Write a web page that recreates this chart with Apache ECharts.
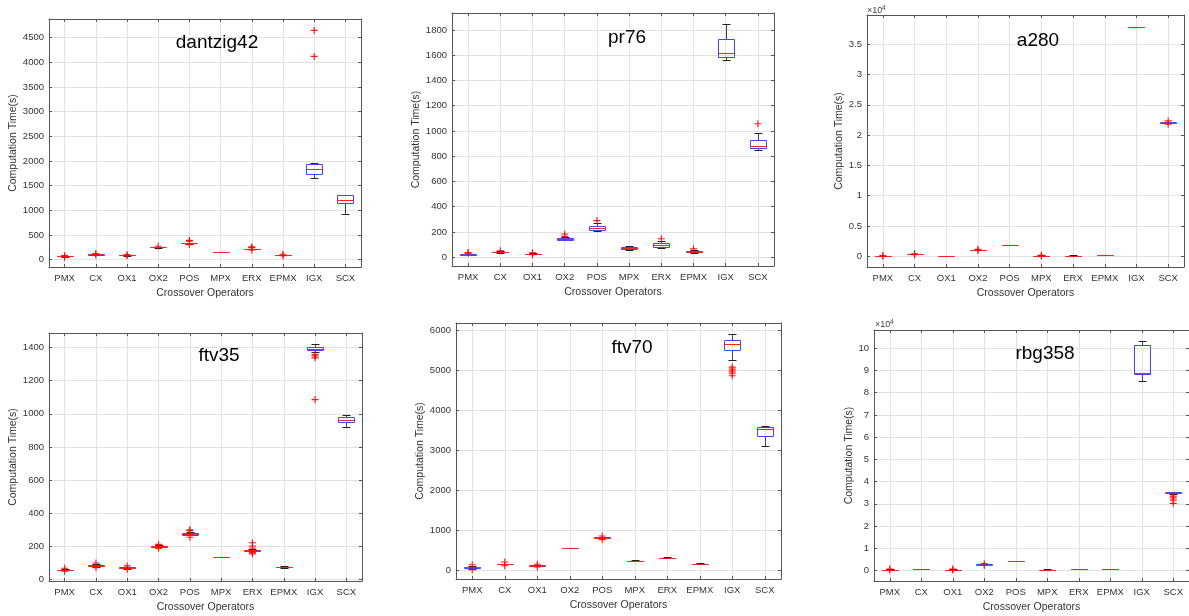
<!DOCTYPE html>
<html><head><meta charset="utf-8">
<script src="https://cdn.jsdelivr.net/npm/echarts@6/dist/echarts.min.js"></script>
<style>html,body{margin:0;padding:0;background:#fff}#c{width:1189px;height:616px}</style>
</head><body><div id="c"></div>
<script>
const categories = ['PMX','CX','OX1','OX2','POS','MPX','ERX','EPMX','IGX','SCX'];
const panelNames = ['dantzig42','pr76','a280','ftv35','ftv70','rbg358'];
const yTickSteps = [500, 200, 5000, 200, 1000, 10000];
const yLabelDivisors = [1, 1, 1e4, 1, 1, 1e4];

// box statistics per category: [lower whisker, Q1, median, Q3, upper whisker] (seconds)
const dantzig42Box = [
  [60,63,66,69,72],[100,103,106,109,112],[81,84,87,90,93],[242,246,249,252,256],
  [326,331,336,341,346],[151,153,155,157,159],[208,212,216,220,224],[87,90,93,96,99],
  [1665,1739,1847,1942,1962],[934,1157,1211,1305,1318]
];
const dantzig42Out = [[0,50],[0,82],[1,125],[1,92],[2,76],[2,100],[3,270],[4,375],[4,390],[4,305],[6,243],[6,258],[6,195],[7,80],[7,108],[8,4121],[8,4649]];

const pr76Box = [
  [14,17,20,23,27],[34,37,40,43,46],[22,24,27,29,32],[134,138,144,150,158],
  [210,216,232,248,272],[58,64,72,82,88],[76,82,93,109,130],[34,38,42,46,53],
  [1560,1586,1620,1729,1847],[848,862,883,930,985]
];
const pr76Out = [[0,32],[0,36],[1,50],[2,35],[2,20],[3,165],[3,184],[4,290],[6,146],[7,66],[9,1057]];

const a280Box = [
  [40,50,60,70,80],[300,315,330,345,360],[40,50,60,70,80],[1020,1035,1047,1060,1075],
  [1790,1805,1820,1835,1850],[80,95,110,125,140],[90,100,110,120,130],[140,155,165,175,190],
  [37850,37860,37870,37880,37890],[21950,22000,22050,22100,22150]
];
const a280Out = [[0,120],[0,10],[1,420],[1,250],[3,1150],[3,950],[5,180],[5,60],[9,21800],[9,22350]];

const ftv35Box = [
  [55,57,58,59,61],[76,81,84,89,94],[64,68,71,74,78],[194,197,200,203,206],
  [266,271,275,279,284],[133,134,135,136,137],[170,174,178,181,185],[72,74,76,78,80],
  [1372,1384,1394,1404,1424],[921,949,963,978,996]
];
const ftv35Out = [[0,68],[0,50],[1,100],[1,72],[2,82],[2,62],[3,212],[3,188],[4,295],[4,255],[4,300],[6,222],[6,202],[6,190],[6,164],[6,155],[8,1358],[8,1350],[8,1338],[8,1086]];

const ftv70Box = [
  [30,55,75,95,120],[148,154,160,166,172],[105,111,117,123,129],[550,555,560,565,570],
  [800,810,817,824,834],[236,239,242,245,248],[311,314,317,320,323],[161,164,167,170,173],
  [5250,5517,5667,5750,5900],[3117,3367,3533,3575,3600]
];
const ftv70Out = [[0,15],[0,140],[1,210],[1,115],[2,155],[2,85],[4,860],[4,770],[8,5083],[8,5033],[8,4983],[8,4933],[8,4867]];

const rbg358Box = [
  [420,435,450,465,480],[570,585,600,615,630],[420,435,450,465,480],[2640,2670,2700,2730,2760],
  [4140,4170,4200,4230,4260],[420,435,450,465,480],[570,585,600,615,630],[720,735,750,765,780],
  [85300,88560,88700,101600,103300],[34400,34700,34950,35300,35500]
];
const rbg358Out = [[0,200],[0,700],[2,250],[2,650],[3,2300],[3,3100],[9,33500],[9,32700],[9,31700],[9,30200]];

const boxSets = [dantzig42Box, pr76Box, a280Box, ftv35Box, ftv70Box, rbg358Box];
const outSets = [dantzig42Out, pr76Out, a280Out, ftv35Out, ftv70Out, rbg358Out];

// layout (pixels) and axis limits per panel
const layouts = [
  {left:49, top:19, width:312, height:248, yMin:-150, yMax:4880, yGap:28, tx:217, ty:43},
  {left:452, top:13, width:322, height:253, yMin:-70, yMax:1935, yGap:27, tx:627, ty:38},
  {left:867, top:15, width:317, height:252, yMin:-1770, yMax:39840, yGap:21, tx:1038, ty:41, exp:[867,11]},
  {left:49, top:333, width:313, height:248, yMin:-9, yMax:1488, yGap:28, tx:219, ty:356},
  {left:456, top:323, width:325, height:256, yMin:-215, yMax:6185, yGap:30, tx:632, ty:348},
  {left:874, top:330, width:315, height:251, yMin:-4700, yMax:108200, yGap:16, tx:1045, ty:354, exp:[875,325]}
];

const FONT = 'Liberation Sans, Arial, Helvetica, sans-serif';
const AX = '#555';
const GRIDC = '#e2e2e2';
const BLUE = '#4444ff';
const RED = '#ff2020';
const PLUS = 'path://M4.2,0h1.6v4.2h4.2v1.6h-4.2v4.2h-1.6v-4.2h-4.2v-1.6h4.2z';

function seg(x1, y1, x2, y2, color) {
  return {type:'line', shape:{x1, y1, x2, y2}, style:{stroke:color, fill:null, lineWidth:1}};
}

function renderBox(params, api) {
  const x = api.value(0);
  const r = v => Math.round(v) + 0.5;
  const pLo = api.coord([x, api.value(1)]);
  const pQ1 = api.coord([x, api.value(2)]);
  const pMd = api.coord([x, api.value(3)]);
  const pQ3 = api.coord([x, api.value(4)]);
  const pHi = api.coord([x, api.value(5)]);
  const half = Math.round(api.size([0.5, 0])[0] / 2);
  const cap = Math.round(half / 2);
  const cx = Math.round(pMd[0]) + 0.5;
  const yLo = r(pLo[1]), yQ1 = r(pQ1[1]), yMd = r(pMd[1]), yQ3 = r(pQ3[1]), yHi = r(pHi[1]);
  const L = cx - half, R = cx + half;
  return {type:'group', children:[
    seg(cx, yQ3, cx, yHi, '#444'),
    seg(cx, yQ1, cx, yLo, '#444'),
    seg(cx - cap, yHi, cx + cap, yHi, '#222'),
    seg(cx - cap, yLo, cx + cap, yLo, '#222'),
    seg(L, yQ3, R, yQ3, BLUE),
    seg(L, yQ1, R, yQ1, BLUE),
    seg(L, yQ3, L, yQ1, BLUE),
    seg(R, yQ3, R, yQ1, BLUE),
    seg(L, yMd, R, yMd, RED)
  ]};
}

const grid = [], xAxis = [], yAxis = [], series = [], graphic = [];
layouts.forEach((L, i) => {
  grid.push({left:L.left, top:L.top, width:L.width, height:L.height, show:false, containLabel:false, outerBoundsMode:'none'});
  const xBase = {type:'value', gridIndex:i, min:0.5, max:10.5, minInterval:1, maxInterval:1};
  xAxis.push(Object.assign({}, xBase, {
    position:'bottom', name:'Crossover Operators', nameLocation:'middle', nameGap:21,
    nameTextStyle:{fontSize:10.5, color:'#333', fontFamily:FONT},
    axisLine:{show:true, onZero:false, lineStyle:{color:AX, width:1}},
    axisTick:{show:true, inside:true, length:3, lineStyle:{color:AX}},
    axisLabel:{showMinLabel:false, showMaxLabel:false, margin:6, fontSize:9.5, color:'#333', fontFamily:FONT,
      formatter: v => Number.isInteger(v) && v >= 1 && v <= 10 ? categories[v-1] : ''},
    splitLine:{show:true, lineStyle:{color:GRIDC, width:1}}
  }));
  xAxis.push(Object.assign({}, xBase, {
    position:'top',
    axisLine:{show:true, onZero:false, lineStyle:{color:AX, width:1}},
    axisTick:{show:true, inside:true, length:3, lineStyle:{color:AX}},
    axisLabel:{show:false}, splitLine:{show:false}
  }));
  const yBase = {type:'value', gridIndex:i, min:L.yMin, max:L.yMax, minInterval:yTickSteps[i], maxInterval:yTickSteps[i]};
  const div = yLabelDivisors[i];
  yAxis.push(Object.assign({}, yBase, {
    position:'left', name:'Computation Time(s)', nameLocation:'middle', nameGap:L.yGap, nameRotate:90,
    nameTextStyle:{fontSize:10.5, color:'#333', fontFamily:FONT},
    axisLine:{show:true, onZero:false, lineStyle:{color:AX, width:1}},
    axisTick:{show:true, inside:true, length:3, lineStyle:{color:AX}},
    axisLabel:{showMinLabel:false, showMaxLabel:false, margin:5, fontSize:9.5, color:'#333', fontFamily:FONT,
      formatter: v => String(Math.round(v / div * 100) / 100)},
    splitLine:{show:true, lineStyle:{color:GRIDC, width:1}}
  }));
  yAxis.push(Object.assign({}, yBase, {
    position:'right',
    axisLine:{show:true, onZero:false, lineStyle:{color:AX, width:1}},
    axisTick:{show:true, inside:true, length:3, lineStyle:{color:AX}},
    axisLabel:{show:false}, splitLine:{show:false}
  }));
  series.push({
    type:'custom', xAxisIndex:2*i, yAxisIndex:2*i, renderItem:renderBox, z:3,
    itemStyle:{color:BLUE},
    encode:{x:0, y:[1,2,3,4,5]},
    data: boxSets[i].map((b, k) => [k + 1].concat(b))
  });
  series.push({
    type:'scatter', xAxisIndex:2*i, yAxisIndex:2*i, symbol:PLUS, symbolSize:7, z:4,
    itemStyle:{color:'#ff0000', opacity:0.9}, silent:true,
    data: outSets[i].map(o => [o[0] + 1, o[1]])
  });
  graphic.push({type:'text', x:L.tx, y:L.ty, z:10,
    style:{text:panelNames[i], fontSize:19, fontFamily:FONT, fill:'#000', align:'center', verticalAlign:'middle'}});
  if (L.exp) {
    graphic.push({type:'text', x:L.exp[0], y:L.exp[1], z:10,
      style:{text:'\u00d710', fontSize:9, fontFamily:FONT, fill:'#444', align:'left', verticalAlign:'middle'}});
    graphic.push({type:'text', x:L.exp[0]+15, y:L.exp[1]-3, z:10,
      style:{text:'4', fontSize:6.5, fontFamily:FONT, fill:'#444', align:'left', verticalAlign:'middle'}});
  }
});

const chart = echarts.init(document.getElementById('c'), null, {renderer:'canvas'});
chart.setOption({animation:false, backgroundColor:'#fff', grid, xAxis, yAxis, series, graphic});
</script></body></html>
